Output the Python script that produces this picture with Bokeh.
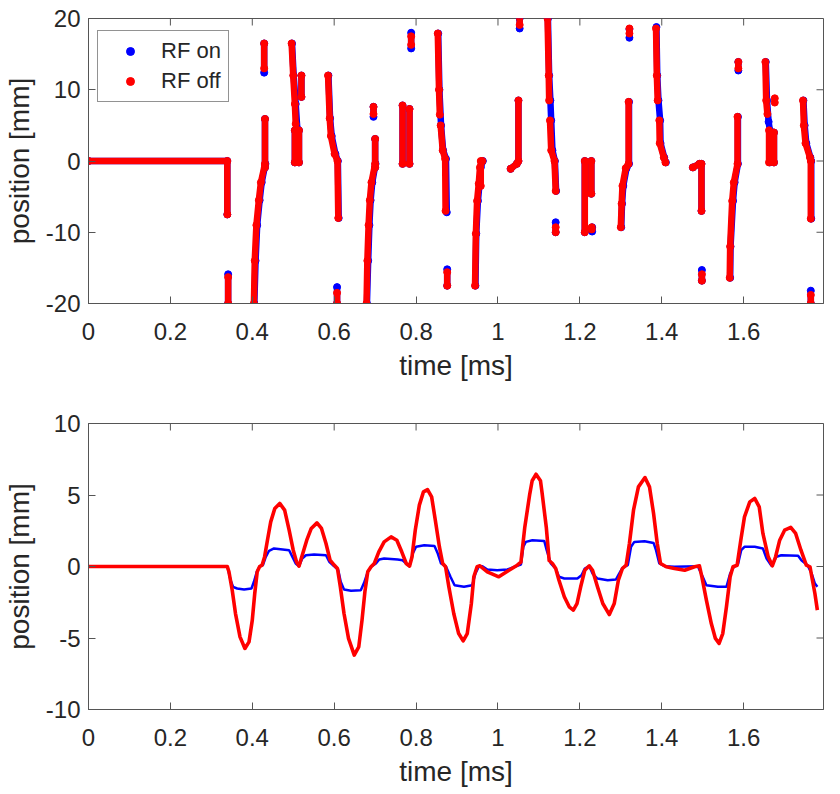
from bokeh.plotting import figure
from bokeh.models import Range1d, FixedTicker, Legend, LegendItem, ColumnDataSource
from bokeh.layouts import column
from bokeh.embed import file_html
from bokeh.resources import INLINE

# ---------------- data ----------------
x_ticks = [0, 0.2, 0.4, 0.6, 0.8, 1, 1.2, 1.4, 1.6]
x_tick_labels = ["0", "0.2", "0.4", "0.6", "0.8", "1", "1.2", "1.4", "1.6"]
top_y_ticks = [-20, -10, 0, 10, 20]
top_y_tick_labels = ["-20", "-10", "0", "10", "20"]
bot_y_ticks = [-10, -5, 0, 5, 10]
bot_y_tick_labels = ["-10", "-5", "0", "5", "10"]
series_names = ["RF on", "RF off"]

# top panel: streaks of samples, each a path of (time [ms], position [mm])
rf_off_streaks = [
    [(0, 0), (0.339, 0), (0.339, -7.5)],
    [(0.341, -16.3), (0.341, -20)],
    [(0.404, -20), (0.406, -14), (0.410, -9), (0.416, -5.5), (0.421, -3), (0.431, -0.4)],
    [(0.431, -0.9), (0.431, 5.9)],
    [(0.429, 13.0), (0.429, 16.5)],
    [(0.496, 16.5), (0.500, 12), (0.504, 8), (0.506, 5.2)],
    [(0.504, 4.3), (0.504, -0.2)],
    [(0.514, 4.3), (0.514, -0.2)],
    [(0.520, 12.0), (0.520, 9.0)],
    [(0.585, 12), (0.589, 6), (0.592, 3.5), (0.601, 1.0), (0.608, 0), (0.610, -8.0)],
    [(0.607, -18.5), (0.607, -20)],
    [(0.679, -20), (0.681, -14), (0.684, -9), (0.687, -5.5), (0.691, -3), (0.700, -0.4)],
    [(0.700, -0.9), (0.700, 3.1)],
    [(0.696, 7.6), (0.696, 6.6)],
    [(0.767, 7.8), (0.767, -0.4)],
    [(0.784, 7.3), (0.784, -0.4)],
    [(0.788, 17.5), (0.788, 16.3)],
    [(0.853, 17.9), (0.856, 10), (0.858, 6.5)],
    [(0.860, 5.0), (0.865, 1.5), (0.871, 0.3), (0.872, -7.0)],
    [(0.876, -15.6), (0.876, -17.5)],
    [(0.944, -17.5), (0.946, -10.2), (0.949, -5.6), (0.953, -3.2), (0.956, -0.9), (0.962, 0)],
    [(0.958, 0), (0.958, -3.5)],
    [(1.031, -1.1), (1.046, -0.4), (1.050, 0), (1.050, 8.5)],
    [(1.053, 20.2), (1.053, 19.1)],
    [(1.121, 20), (1.124, 12), (1.125, 8.5)],
    [(1.127, 5.7), (1.130, 1.5), (1.138, 0), (1.141, -4.2)],
    [(1.141, -9.3), (1.141, -10.0)],
    [(1.212, 0), (1.212, -10)],
    [(1.228, 0), (1.228, -4.6)],
    [(1.229, -9.3), (1.229, -9.6)],
    [(1.300, -9.3), (1.302, -6), (1.304, -3.5), (1.312, -1), (1.319, -0.4), (1.319, 8.3)],
    [(1.321, 18.6), (1.321, 17.9)],
    [(1.386, 18.6), (1.388, 12), (1.390, 8.5)],
    [(1.394, 5.7), (1.395, 2.5), (1.405, 0.5), (1.409, -0.2)],
    [(1.476, -0.9), (1.492, -0.4), (1.497, -0.4), (1.497, -7.0)],
    [(1.498, -15.9), (1.498, -16.8)],
    [(1.566, -16.4), (1.567, -12), (1.572, -5.6), (1.576, -3), (1.585, -0.4), (1.585, 6.2)],
    [(1.587, 13.9), (1.587, 13.0)],
    [(1.653, 13.9), (1.655, 8.5), (1.658, 6.6)],
    [(1.662, 4.3), (1.662, -0.2)],
    [(1.674, 4.0), (1.674, -0.2)],
    [(1.676, 8.8), (1.676, 8.2)],
    [(1.745, 8.5), (1.747, 5), (1.751, 2.5), (1.762, 0.5), (1.764, 0), (1.764, -8.1)],
    [(1.764, -18.8), (1.764, -20)],
]

rf_on_streaks = [
    [(0, 0), (0.339, 0), (0.339, -7.5)],
    [(0.341, -15.9), (0.341, -20)],
    [(0.405, -20), (0.408, -14), (0.412, -9), (0.418, -5.5), (0.423, -3), (0.432, -0.4)],
    [(0.431, -0.9), (0.431, 5.9)],
    [(0.429, 12.4), (0.429, 16.5)],
    [(0.497, 16.5), (0.501, 12), (0.506, 8), (0.510, 4.5)],
    [(0.504, 4.3), (0.504, -0.2)],
    [(0.514, 4.3), (0.514, -0.2)],
    [(0.520, 12.0), (0.520, 9.0)],
    [(0.586, 12), (0.590, 6), (0.594, 3.5), (0.603, 1.0), (0.609, 0), (0.611, -8.0)],
    [(0.607, -17.7), (0.607, -20)],
    [(0.680, -20), (0.683, -14), (0.686, -9), (0.689, -5.5), (0.693, -3), (0.701, -0.4)],
    [(0.700, -0.9), (0.700, 3.1)],
    [(0.696, 7.6), (0.696, 6.2)],
    [(0.767, 7.8), (0.767, -0.4)],
    [(0.784, 7.3), (0.784, -0.4)],
    [(0.788, 18.0), (0.788, 15.8)],
    [(0.854, 17.9), (0.857, 10), (0.861, 5), (0.866, 1.5), (0.873, 0.3), (0.875, -7.2)],
    [(0.876, -15.2), (0.876, -17.5)],
    [(0.945, -17.5), (0.947, -10.2), (0.951, -5.6), (0.955, -3.2), (0.958, -0.9), (0.963, 0)],
    [(1.031, -1.1), (1.046, -0.4), (1.050, 0), (1.050, 8.5)],
    [(1.053, 20), (1.053, 18.6)],
    [(1.122, 20), (1.125, 12), (1.128, 8.5), (1.130, 5.7), (1.133, 1.5), (1.139, 0), (1.142, -4.2)],
    [(1.141, -8.6), (1.141, -10.0)],
    [(1.212, 0), (1.212, -10)],
    [(1.228, 0), (1.228, -4.6)],
    [(1.230, -9.3), (1.230, -9.9)],
    [(1.301, -9.3), (1.303, -6), (1.306, -3.5), (1.314, -1), (1.320, -0.4), (1.320, 8.3)],
    [(1.321, 18.5), (1.321, 17.3)],
    [(1.387, 18.8), (1.389, 12), (1.392, 8.5), (1.396, 5.7), (1.397, 2.5), (1.406, 0.5), (1.410, -0.2)],
    [(1.476, -0.9), (1.492, -0.4), (1.497, -0.4), (1.497, -7.0)],
    [(1.498, -15.3), (1.498, -16.8)],
    [(1.567, -16.4), (1.568, -12), (1.574, -5.6), (1.578, -3), (1.586, -0.4), (1.586, 6.2)],
    [(1.587, 13.9), (1.587, 12.7)],
    [(1.654, 13.9), (1.657, 8.5), (1.661, 5.5), (1.664, 4.3), (1.664, -0.2)],
    [(1.674, 4.0), (1.674, -0.2)],
    [(1.746, 8.5), (1.749, 5), (1.753, 2.5), (1.763, 0.5), (1.765, 0), (1.765, -8.1)],
    [(1.764, -18.2), (1.764, -20)],
]

# bottom panel: averaged position traces
rf_off_t = [0, 0.339, 0.343, 0.351, 0.359, 0.370, 0.382, 0.392, 0.400, 0.406, 0.412, 0.418,
            0.424, 0.430, 0.437, 0.445, 0.455, 0.467, 0.479, 0.490, 0.500, 0.508, 0.514,
            0.522, 0.533, 0.544, 0.558, 0.569, 0.580, 0.590, 0.600, 0.608, 0.615, 0.624,
            0.635, 0.649, 0.660, 0.668, 0.675, 0.682, 0.690, 0.698, 0.709, 0.722, 0.739,
            0.753, 0.765, 0.776, 0.784, 0.790, 0.798, 0.808, 0.818, 0.828, 0.838, 0.847,
            0.857, 0.865, 0.872, 0.880, 0.892, 0.904, 0.915, 0.925, 0.935, 0.941, 0.949,
            0.956, 0.974, 1.002, 1.027, 1.047, 1.056, 1.0655, 1.0777, 1.0835, 1.093, 1.1038,
            1.108, 1.118, 1.125, 1.133, 1.141, 1.149, 1.162, 1.174, 1.184, 1.193, 1.202, 1.212,
            1.223, 1.231, 1.243, 1.256, 1.272, 1.284, 1.294, 1.304, 1.313, 1.321, 1.331,
            1.343, 1.359, 1.370, 1.380, 1.389, 1.397, 1.411, 1.431, 1.456, 1.480, 1.492,
            1.498, 1.509, 1.521, 1.531, 1.540, 1.549, 1.558, 1.567, 1.574, 1.584, 1.593,
            1.602, 1.615, 1.627, 1.638, 1.647, 1.660, 1.670, 1.678, 1.688, 1.700, 1.715,
            1.727, 1.740, 1.753, 1.762, 1.768, 1.774, 1.780]
rf_off_pos = [0, 0, -0.37, -1.66, -3.29, -4.92, -5.73, -5.27, -3.75, -1.89, -0.37, 0.0,
              0.1, 0.67, 1.84, 3.12, 4.06, 4.41, 3.94, 2.54, 1.14, 0.33, 0.02,
              0.79, 1.84, 2.66, 3.05, 2.66, 1.61, 0.44, 0.1, -0.14, -1.42, -3.29,
              -5.03, -6.2, -5.62, -3.75, -1.77, -0.37, -0.02, 0.21, 1.03, 1.72, 2.07,
              1.84, 1.03, 0.21, 0.02, 0.67, 2.54, 4.29, 5.22, 5.38, 4.87, 3.24,
              1.37, 0.21, -0.02, -1.42, -3.29, -4.69, -5.20, -4.69, -2.59, -0.72, -0.02,
              0.05, -0.37, -0.72, -0.26, 0.09, 0.30, 2.75, 5.08, 6.00, 6.45, 6.00,
              5.08, 2.75, 0.42, 0.21, -0.14, -0.96, -2.12, -2.82, -3.05, -2.59, -1.42, -0.26,
              0.05, -0.26, -1.42, -2.59, -3.36, -2.59, -0.96, -0.14, 0.09, 1.61, 3.94,
              5.57, 6.22, 5.57, 3.71, 1.61, 0.21, -0.02, -0.14, -0.26, -0.02, 0.05,
              -0.72, -2.35, -3.99, -5.03, -5.38, -4.69, -2.82, -0.72, -0.02, 0.09, 1.84,
              3.47, 4.52, 4.76, 4.17, 2.31, 0.68, 0.05, 0.68, 1.84, 2.54, 2.73,
              2.31, 1.14, 0.09, -0.02, -0.96, -1.89, -3.05]

rf_on_t = [0, 0.339, 0.347, 0.353, 0.363, 0.380, 0.398, 0.404, 0.411, 0.418, 0.426, 0.433,
           0.441, 0.453, 0.469, 0.490, 0.498, 0.506, 0.514, 0.522, 0.531, 0.551, 0.580,
           0.588, 0.600, 0.610, 0.616, 0.624, 0.641, 0.665, 0.673, 0.682, 0.691, 0.702,
           0.710, 0.722, 0.755, 0.767, 0.776, 0.784, 0.792, 0.800, 0.820, 0.845, 0.853,
           0.861, 0.873, 0.884, 0.894, 0.917, 0.937, 0.945, 0.953, 0.962, 0.974, 0.998,
           1.023, 1.047, 1.056, 1.062, 1.068, 1.084, 1.113, 1.119, 1.129, 1.141, 1.149,
           1.162, 1.194, 1.204, 1.212, 1.223, 1.231, 1.243, 1.268, 1.288, 1.296, 1.304,
           1.317, 1.325, 1.333, 1.358, 1.380, 1.386, 1.394, 1.407, 1.431, 1.488, 1.500,
           1.509, 1.537, 1.558, 1.567, 1.576, 1.586, 1.594, 1.602, 1.627, 1.647, 1.656,
           1.668, 1.680, 1.692, 1.733, 1.741, 1.756, 1.766, 1.774, 1.780]
rf_on_pos = [0, 0, -0.96, -1.42, -1.54, -1.61, -1.54, -1.07, -0.37, 0, 0.1, 0.67,
             1.10, 1.26, 1.21, 1.14, 0.67, 0.21, 0.02, 0.56, 0.79, 0.84, 0.79,
             0.33, 0.02, -0.26, -1.07, -1.61, -1.70, -1.66, -1.14, -0.37, 0, 0.21,
             0.49, 0.56, 0.49, 0.44, 0.21, 0.02, 0.91, 1.38, 1.49, 1.44, 0.91,
             0.21, 0, -0.72, -1.31, -1.42, -1.31, -0.49, -0.02, 0.02, -0.21, -0.26,
             -0.21, 0.05, 0.14, 1.38, 1.72, 1.84, 1.79, 1.14, 0.21, -0.14, -0.72,
             -0.84, -0.84, -0.61, -0.14, 0.02, -0.49, -0.84, -0.96, -0.91, -0.49, -0.09,
             0.09, 1.38, 1.72, 1.77, 1.65, 1.14, 0.21, 0.02, -0.02, 0.02, -0.72,
             -1.31, -1.42, -1.42, -0.49, -0.02, 0.14, 1.14, 1.38, 1.38, 1.26, 0.56,
             0.05, 0.68, 0.79, 0.75, 0.44, 0.09, -0.49, -1.19, -1.42]

# ---------------- styling ----------------
FONT = "Liberation Sans"
TXT = "#262626"
AX = "#555555"
BLUE = "#0000ff"
RED = "#ff0000"
X_MIN, X_MAX = 0, 1.795


def style(p, yt, ytl, y_lo, y_hi):
    p.grid.grid_line_color = None
    p.outline_line_color = AX
    p.outline_line_width = 1
    p.background_fill_color = "white"
    p.border_fill_color = "white"
    xo = {t: l for t, l in zip(x_ticks, x_tick_labels)}
    yo = {t: l for t, l in zip(yt, ytl)}
    p.xaxis.ticker = FixedTicker(ticks=x_ticks)
    p.xaxis.major_label_overrides = xo
    p.yaxis.ticker = FixedTicker(ticks=yt)
    p.yaxis.major_label_overrides = yo
    for ax in p.axis:
        ax.minor_tick_line_color = None
        ax.major_tick_in = 7
        ax.major_tick_out = 0
        ax.major_tick_line_color = AX
        ax.axis_line_color = AX
        ax.major_label_text_font = FONT
        ax.major_label_text_font_size = "24px"
        ax.major_label_text_color = TXT
        ax.axis_label_text_font = FONT
        ax.axis_label_text_font_size = "28px"
        ax.axis_label_text_font_style = "normal"
        ax.axis_label_text_color = TXT
    p.xaxis.major_label_standoff = 19
    p.xaxis.axis_label_standoff = 7
    p.yaxis.major_label_standoff = 8
    p.yaxis.axis_label_standoff = 8
    p.xaxis.axis_label = "time [ms]"
    p.yaxis.axis_label = "position [mm]"
    # mirrored inward tick marks on the top and right frame edges (box on)
    p.scatter(x=x_ticks, y=[y_hi] * len(x_ticks), marker="dash", angle=1.5708,
              size=14, line_color=AX, line_width=1)
    p.scatter(x=[X_MAX] * len(yt), y=yt, marker="dash", size=14,
              line_color=AX, line_width=1)


# ---------------- top panel ----------------
p1 = figure(frame_width=735, frame_height=285, output_backend="svg", toolbar_location=None,
            x_range=Range1d(X_MIN, X_MAX), y_range=Range1d(-20, 20),
            min_border_left=80, min_border_top=18, min_border_right=8, min_border_bottom=100)

on_xs = [[pt[0] for pt in s] for s in rf_on_streaks]
on_ys = [[pt[1] for pt in s] for s in rf_on_streaks]
off_xs = [[pt[0] for pt in s] for s in rf_off_streaks]
off_ys = [[pt[1] for pt in s] for s in rf_off_streaks]

on_pts = ColumnDataSource(dict(x=[v for s in on_xs for v in s], y=[v for s in on_ys for v in s]))
off_pts = ColumnDataSource(dict(x=[v for s in off_xs for v in s], y=[v for s in off_ys for v in s]))

r_on_dots = p1.scatter("x", "y", source=on_pts, marker="circle", size=7,
                       fill_color=BLUE, line_color=BLUE)
p1.multi_line(on_xs, on_ys, line_color=BLUE, line_width=6.5,
              line_cap="round", line_join="round")
r_off_dots = p1.scatter("x", "y", source=off_pts, marker="circle", size=7,
                        fill_color=RED, line_color=RED)
p1.multi_line(off_xs, off_ys, line_color=RED, line_width=6.5,
              line_cap="round", line_join="round")
style(p1, top_y_ticks, top_y_tick_labels, -20, 20)

legend = Legend(items=[LegendItem(label=series_names[0], renderers=[r_on_dots]),
                       LegendItem(label=series_names[1], renderers=[r_off_dots])],
                location=(9, 201), margin=0, padding=7, spacing=4,
                glyph_width=50, glyph_height=20, label_standoff=6, label_height=20,
                label_text_font=FONT, label_text_font_size="22px", label_text_color=TXT,
                border_line_color="#262626", border_line_width=1,
                background_fill_color="white", background_fill_alpha=1)
p1.add_layout(legend)

# ---------------- bottom panel ----------------
p2 = figure(frame_width=735, frame_height=286, output_backend="svg", toolbar_location=None,
            x_range=Range1d(X_MIN, X_MAX), y_range=Range1d(-10, 10),
            min_border_left=80, min_border_top=20, min_border_right=8, min_border_bottom=80)
p2.line(rf_on_t, rf_on_pos, line_color=BLUE, line_width=2.5)
p2.line(rf_off_t, rf_off_pos, line_color=RED, line_width=3.6, line_join="round")
style(p2, bot_y_ticks, bot_y_tick_labels, -10, 10)

page = column(p1, p2, spacing=0)
open("out.html", "w").write(file_html(page, INLINE))
